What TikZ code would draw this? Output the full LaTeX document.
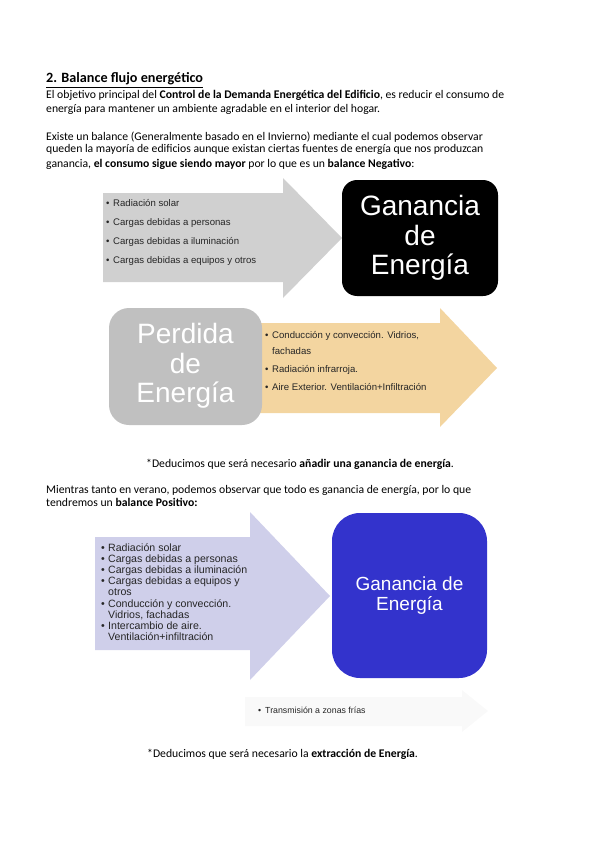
\documentclass[tikz,border=0pt]{standalone}
\usepackage{fontspec}
\setmainfont{Carlito}
\newfontfamily\arialfont{Liberation Sans}
\usetikzlibrary{positioning}

\definecolor{grisflecha}{RGB}{208,208,208}
\definecolor{grisperdida}{RGB}{192,192,192}
\definecolor{ocreflecha}{RGB}{243,213,160}
\definecolor{lilaflecha}{RGB}{207,207,234}
\definecolor{azulganancia}{RGB}{51,51,204}
\definecolor{casiblanco}{RGB}{249,249,249}

\newcommand{\vineta}{\makebox[7pt][l]{\textbullet}}

\begin{document}
\begin{tikzpicture}[x=1pt, y=-1pt,
    % Estilos de las formas
    flechagris/.style={fill=grisflecha, draw=none},
    flechaocre/.style={fill=ocreflecha, draw=none},
    flechalila/.style={fill=lilaflecha, draw=none},
    flechatenue/.style={fill=casiblanco, draw=none},
    cajanegra/.style={fill=black, draw=none, rounded corners=15pt},
    cajagris/.style={fill=grisperdida, draw=none, rounded corners=20pt},
    cajaazul/.style={fill=azulganancia, draw=none, rounded corners=28pt},
    % Estilos para los textos
    parrafo/.style={anchor=base west, inner sep=0pt, font=\fontsize{11.7}{13}\selectfont},
    titulo/.style={anchor=base west, inner sep=0pt, font=\fontsize{14.2}{16}\selectfont\bfseries},
    grande/.style={inner sep=0pt, align=center, text=white, font=\arialfont\fontsize{28}{29.5}\selectfont},
    mediano/.style={inner sep=0pt, align=center, text=white, font=\arialfont\fontsize{19}{20}\selectfont},
    lista/.style={anchor=base west, inner sep=0pt, text=black!85, font=\arialfont\fontsize{9.6}{10}\selectfont},
    listalila/.style={anchor=base west, inner sep=0pt, text=black!85, font=\arialfont\fontsize{10.6}{11}\selectfont}
]
\useasboundingbox (0,0) rectangle (600,848);

% --- TEXTO INICIAL ---
\node[titulo] (tit) at (46,83) {\underline{2. Balance flujo energético}};
\node[parrafo] (p1) at (46,99) {El objetivo principal del \textbf{Control de la Demanda Energética del Edificio}, es reducir el consumo de};
\node[parrafo] (p2) at (46,113) {energía para mantener un ambiente agradable en el interior del hogar.};
\node[parrafo] (p3) at (46,140) {Existe un balance (Generalmente basado en el Invierno) mediante el cual podemos observar};
\node[parrafo] (p4) at (46,153) {queden la mayoría de edificios aunque existan ciertas fuentes de energía que nos produzcan};
\node[parrafo] (p5) at (46,167) {ganancia, \textbf{el consumo sigue siendo mayor} por lo que es un \textbf{balance Negativo}:};

% --- INVIERNO: GANANCIA ---
\draw[flechagris] (103,193) -- (283,193) -- (283,178) -- (342,238) -- (283,298) -- (283,282) -- (103,282) -- cycle;
\node[lista] (g1) at (106,206) {\vineta Radiación solar};
\node[lista] (g2) at (106,225) {\vineta Cargas debidas a personas};
\node[lista] (g3) at (106,244) {\vineta Cargas debidas a iluminación};
\node[lista] (g4) at (106,263) {\vineta Cargas debidas a equipos y otros};
\draw[cajanegra] (342,180) rectangle (498,296);
\node[grande] (ganancia) at (420,238) {Ganancia\\de\\Energía};

% --- INVIERNO: PERDIDA ---
\draw[flechaocre] (250,323) -- (440,323) -- (440,308) -- (497,368) -- (440,427) -- (440,413) -- (250,413) -- cycle;
\draw[cajagris] (109,308) rectangle (262,425);
\node[grande] (perdida) at (185.5,366) {Perdida\\de\\Energía};
\node[lista] (o1) at (265,338) {\vineta Conducción y convección. Vidrios,};
\node[lista] (o2) at (265,354) {\hspace*{7pt}fachadas};
\node[lista] (o3) at (265,372) {\vineta Radiación infrarroja.};
\node[lista] (o4) at (265,390) {\vineta Aire Exterior. Ventilación+Infiltración};

% --- TEXTO INTERMEDIO ---
\node[parrafo] (c1) at (146,467) {*Deducimos que será necesario \textbf{añadir una ganancia de energía}.};
\node[parrafo] (p6) at (46,493) {Mientras tanto en verano, podemos observar que todo es ganancia de energía, por lo que};
\node[parrafo] (p7) at (46,506) {tendremos un \textbf{balance Positivo:}};

% --- VERANO ---
\draw[flechalila] (95,537) -- (250,537) -- (250,512) -- (330,596) -- (250,680) -- (250,650) -- (95,650) -- cycle;
\node[listalila] (l1) at (101,551) {\vineta Radiación solar};
\node[listalila] (l2) at (101,562.2) {\vineta Cargas debidas a personas};
\node[listalila] (l3) at (101,573.4) {\vineta Cargas debidas a iluminación};
\node[listalila] (l4) at (101,584.6) {\vineta Cargas debidas a equipos y};
\node[listalila] (l5) at (101,595.8) {\hspace*{7pt}otros};
\node[listalila] (l6) at (101,607) {\vineta Conducción y convección.};
\node[listalila] (l7) at (101,618.2) {\hspace*{7pt}Vidrios, fachadas};
\node[listalila] (l8) at (101,629.4) {\vineta Intercambio de aire.};
\node[listalila] (l9) at (101,640.6) {\hspace*{7pt}Ventilación+infiltración};
\draw[cajaazul] (332,513) rectangle (487,678);
\node[mediano] (verano) at (409.5,596) {Ganancia de\\Energía};

% --- TRANSMISION ---
\draw[flechatenue] (245,697) -- (462,697) -- (462,690) -- (488,711) -- (462,732) -- (462,726) -- (245,726) -- cycle;
\node[lista, font=\arialfont\fontsize{8.8}{9}\selectfont] (t1) at (258,713) {\vineta Transmisión a zonas frías};

% --- TEXTO FINAL ---
\node[parrafo] (c2) at (147,757) {*Deducimos que será necesario la \textbf{extracción de Energía}.};

\end{tikzpicture}
\end{document}
